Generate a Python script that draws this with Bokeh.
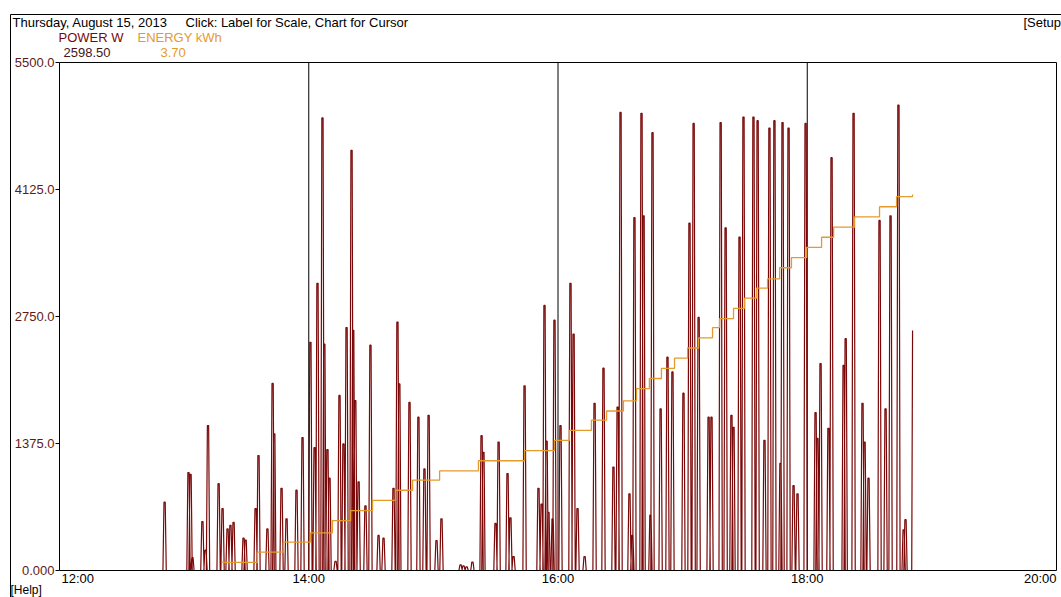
from bokeh.plotting import figure
from bokeh.models import Range1d, Label, BoxAnnotation
from bokeh.core.properties import value
from bokeh.embed import file_html
from bokeh.resources import INLINE

# ---------------- data ----------------
HEADER_DATE = "Thursday, August 15, 2013"
HEADER_HINT = "Click: Label for Scale, Chart for Cursor"
HEADER_SETUP = "[Setup"
FOOTER_HELP = "[Help]"
SERIES_NAMES = ["POWER W", "ENERGY kWh"]
SERIES_READOUTS = ["2598.50", "3.70"]

X_TICKS = [0, 120, 240, 360, 480]            # minutes after 12:00
X_TICK_LABELS = ["12:00", "14:00", "16:00", "18:00", "20:00"]
X_GRID = [120, 240, 360]
Y_TICKS = [0, 1375, 2750, 4125, 5500]
Y_TICK_LABELS = ["0.000", "1375.0", "2750.0", "4125.0", "5500.0"]
ENERGY_MAX = 5.0

# power spikes: minute after 12:00, peak watts
spike_minutes = [
    50.6, 62.1, 63.1, 64.0, 68.8, 70.3, 71.5, 76.6, 78.5, 80.9, 82.3, 83.8,
    88.6, 89.6, 94.4, 95.8, 100.1, 102.6, 103.4, 106.9, 109.3, 114.1, 117.0,
    120.8, 122.8, 124.2, 126.6, 127.5, 129.0, 130.0, 132.9, 134.8, 136.7,
    138.2, 140.6, 141.4, 142.4, 144.0, 147.3, 149.7, 153.6, 156.0, 160.8,
    162.7, 163.6, 168.5, 172.8,
    175.7, 177.7, 181.5, 183.9, 193.1, 194.5, 196.0, 198.8, 203.2, 204.1,
    209.9, 211.4, 215.7, 217.1, 218.6, 223.9, 230.6, 232.1, 233.5, 234.5,
    235.4, 237.4, 238.3, 241.2, 246.0, 247.5, 249.4, 252.8, 257.6, 261.9,
    266.7, 268.7, 270.1, 274.4, 275.8, 276.8, 280.2, 281.2, 284.5, 285.5,
    289.4, 292.7, 295.1, 300.4, 303.3,
    305.3, 307.7, 312.5, 313.9, 318.3, 320.7, 323.5, 324.5, 327.4, 329.3,
    334.1, 336.1, 339.4, 341.8, 344.2, 347.1, 348.1, 351.0, 353.4, 355.3,
    359.2, 364.0, 364.9, 366.4, 370.2, 371.7, 377.5, 378.5, 382.3, 386.6,
    387.6, 389.5, 394.8, 397.7, 400.1, 403.9, 406.4, 407.3,
]
spike_watts = [
    740, 1060, 1040, 140, 530, 220, 1570, 940, 670, 450, 490, 520,
    350, 330, 670, 1245, 450, 2025, 1480, 890, 560, 870, 1440,
    2470, 1330, 3110, 4900, 2450, 1310, 1000, 100, 1895, 1370,
    2630, 4550, 2600, 1840, 960, 700, 2440, 380, 350, 890,
    2690, 2020, 1820, 1660,
    1100, 1680, 325, 560, 60, 50, 40, 90, 1460, 1280,
    510, 1390, 1050, 570, 150, 2000, 890, 720, 2870, 1400,
    630, 560, 2710, 1570, 3110, 2560, 670, 150, 1810, 2190,
    1120, 1770, 4960, 830, 380, 3820, 4950, 3840, 600, 4740,
    1750, 2310, 2150, 1920, 3760,
    4840, 2740, 1660, 1660, 4850, 3710, 1680, 1550, 3610, 4910,
    4910, 4870, 1410, 4790, 4870, 1160, 4850, 4790, 920, 830,
    4840, 1710, 1430, 2240, 1540, 4470, 2220, 2510, 4950, 1810,
    1390, 1000, 3790, 1750, 3840, 5040, 440, 550,
]
last_minute = 410.7
last_watts = 2598.5

# cumulative energy steps: minute after 12:00, kWh
energy_minutes = [
    78.3, 95.3, 107.8, 120.8, 131.4, 140.1, 150.7, 161.8, 170.0, 183.0,
    201.7, 223.9, 238.3, 245.5, 256.1, 263.4, 271.5, 277.8, 284.0, 289.8,
    296.1, 302.4, 307.7, 314.4, 317.8, 324.5, 329.8, 335.6, 340.9, 346.7,
    352.4, 359.7, 366.9, 372.7, 382.8, 394.8, 403.0, 410.7,
]
energy_kwh = [
    0.08, 0.18, 0.28, 0.37, 0.49, 0.59, 0.69, 0.79, 0.89, 0.98,
    1.08, 1.18, 1.28, 1.38, 1.48, 1.57, 1.67, 1.79, 1.89, 1.99,
    2.09, 2.19, 2.29, 2.39, 2.48, 2.58, 2.68, 2.78, 2.87, 2.98,
    3.08, 3.18, 3.28, 3.38, 3.48, 3.58, 3.68, 3.70,
]

# ---------------- layout (pixels of the 1061x597 canvas) ----------------
W, H = 1061, 597
AREA_L, AREA_R, AREA_T, AREA_B = 59, 1056, 62, 570   # chart area box
X0, X1 = X_TICKS[0], X_TICKS[-1]
Y0, Y1 = Y_TICKS[0], Y_TICKS[-1]
KX = (X1 - X0) / (AREA_R - AREA_L)     # minutes per pixel
KY = (Y1 - Y0) / (AREA_B - AREA_T)     # watts per pixel

def dx(cx):
    return X0 + (cx - AREA_L) * KX

def dy(cy):
    return Y0 + (AREA_B - cy) * KY

FONT = "Liberation Sans"
MAROON = "#7a0808"
ORANGE = "#e59a2c"
AXIS_TXT = "#5e1a1a"

p = figure(width=W, height=H, output_backend="svg", toolbar_location=None,
           x_range=Range1d(dx(0), dx(W)), y_range=Range1d(dy(H), dy(0)),
           x_axis_location=None, y_axis_location=None, min_border=0)
e_scale = ENERGY_MAX / Y1
p.extra_y_ranges = {"energy": Range1d(dy(H) * e_scale, dy(0) * e_scale)}
p.background_fill_color = "white"
p.border_fill_color = "white"
p.outline_line_color = None
p.grid.visible = False

# outer window frame (left and top edges visible inside the window)
p.add_layout(BoxAnnotation(left=dx(10), right=dx(W + 50), top=dy(14), bottom=dy(H + 50),
                           fill_alpha=0, line_color="black", line_alpha=1.0,
                           line_width=1, level="underlay"))

# vertical hour lines
p.segment(x0=X_GRID, y0=[Y0] * len(X_GRID), x1=X_GRID, y1=[Y1] * len(X_GRID),
          line_color="black", line_width=1)

# power line built from spike data
px, py = [], []
for t, h in zip(spike_minutes, spike_watts):
    px += [t - 0.8, t - 0.3, t + 0.3, t + 0.8]
    py += [0, h, h, 0]
px += [last_minute - 0.4, last_minute]
py += [0, last_watts]
p.line(px, py, line_color=MAROON, line_width=1.2)

# energy step line
p.step(energy_minutes, energy_kwh, mode="after", y_range_name="energy",
       line_color=ORANGE, line_width=1.3)

# chart area box
p.add_layout(BoxAnnotation(left=X0, right=X1, bottom=Y0, top=Y1, fill_alpha=0,
                           line_color="black", line_alpha=1.0, line_width=1,
                           level="overlay"))

# y scale: ticks and labels
p.segment(x0=[dx(AREA_L - 4)] * len(Y_TICKS), y0=Y_TICKS,
          x1=[X0] * len(Y_TICKS), y1=Y_TICKS, line_color="black", line_width=1)
p.text(x=[dx(AREA_L - 5)] * len(Y_TICKS), y=Y_TICKS, text=Y_TICK_LABELS,
       text_font=value(FONT), text_font_size="13px", text_color=AXIS_TXT,
       text_align="right", text_baseline="middle")

def lab(text, cx, cy, color="black", align="left", size="13px"):
    p.add_layout(Label(x=dx(cx), y=dy(cy), text=text, text_font=FONT,
                       text_font_size=size, text_color=color, text_align=align,
                       text_baseline="middle"))

lab(HEADER_DATE, 12, 22)
lab(HEADER_HINT, 185, 22)
lab(HEADER_SETUP, 1023, 22)
lab(SERIES_NAMES[0], 58, 37, MAROON)
lab(SERIES_NAMES[1], 137, 37, ORANGE)
lab(SERIES_READOUTS[0], 63, 52, "#4a1212")
lab(SERIES_READOUTS[1], 160, 52, ORANGE)
lab(FOOTER_HELP, 10, 589, size="12px")

for i, (t, s) in enumerate(zip(X_TICKS, X_TICK_LABELS)):
    align = "left" if i == 0 else ("right" if i == len(X_TICKS) - 1 else "center")
    off = 2 if i == 0 else 0
    p.add_layout(Label(x=t, y=dy(578), x_offset=off, text=s, text_font=FONT,
                       text_font_size="13px", text_color="black",
                       text_align=align, text_baseline="middle"))

open("out.html", "w").write(file_html(p, INLINE))
